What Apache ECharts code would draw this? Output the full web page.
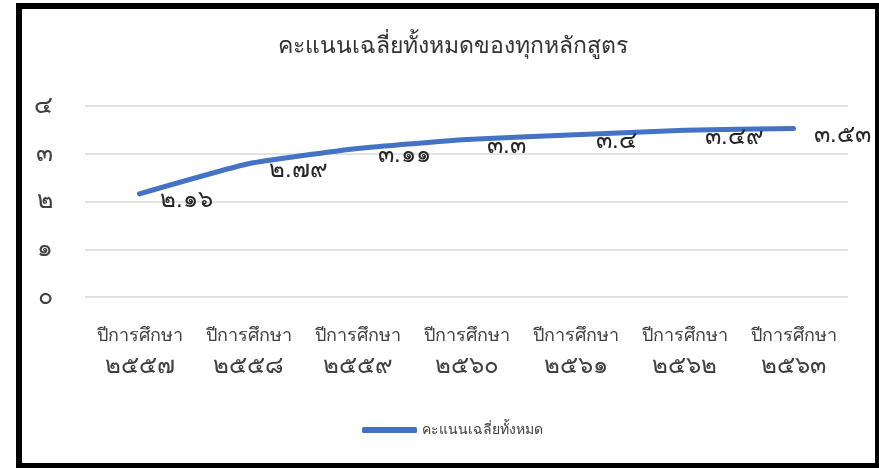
<!DOCTYPE html>
<html><head><meta charset="utf-8">
<script src="https://cdn.jsdelivr.net/npm/echarts@6/dist/echarts.min.js"></script>
<style>
html,body{margin:0;padding:0;background:#fff;}
#frame{position:absolute;left:16px;top:3px;width:853px;height:454px;border:6px solid #000;box-sizing:content-box;}
#chart{position:absolute;left:0;top:0;width:879px;height:468px;}
</style></head>
<body>
<div id="frame"></div>
<div id="chart"></div>
<script>
const titleText = 'คะแนนเฉลี่ยทั้งหมดของทุกหลักสูตร';
const seriesName = 'คะแนนเฉลี่ยทั้งหมด';
const categories = ['ปีการศึกษา\n๒๕๕๗','ปีการศึกษา\n๒๕๕๘','ปีการศึกษา\n๒๕๕๙','ปีการศึกษา\n๒๕๖๐','ปีการศึกษา\n๒๕๖๑','ปีการศึกษา\n๒๕๖๒','ปีการศึกษา\n๒๕๖๓'];
const values = [2.16, 2.79, 3.11, 3.3, 3.4, 3.49, 3.53];
const yTicks = ['๐','๑','๒','๓','๔'];
const thaiDigits = ['๐','๑','๒','๓','๔','๕','๖','๗','๘','๙'];
function toThai(s){ return String(s).replace(/[0-9]/g, d => thaiDigits[+d]); }

const chart = echarts.init(document.getElementById('chart'));
chart.setOption({
  backgroundColor: 'transparent',
  animation: false,
  title: {
    text: titleText, left: 448, top: 30, textAlign: 'center',
    textStyle: { fontSize: 23, fontWeight: 'normal', color: '#333333' }
  },
  legend: {
    data: [seriesName], left: 357, top: 418,
    icon: 'roundRect', itemWidth: 55, itemHeight: 6,
    itemStyle: { color: '#4472C4', opacity: 1 },
    textStyle: { fontSize: 14, color: '#404040' }
  },
  grid: { left: 85, right: 31, top: 106, bottom: 171 },
  xAxis: {
    type: 'category', data: categories, boundaryGap: true,
    axisLine: { show: false }, axisTick: { show: false },
    axisLabel: {
      color: '#404040', margin: 24, interval: 0,
      formatter: v => { const p = v.split('\n'); return '{t|' + p[0] + '}\n{d|' + p[1] + '}'; },
      rich: {
        t: { fontSize: 18, lineHeight: 30, color: '#404040' },
        d: { fontSize: 24, lineHeight: 30, color: '#404040' }
      }
    }
  },
  yAxis: {
    type: 'value', min: 0, max: 4, interval: 1,
    axisLine: { show: false }, axisTick: { show: false },
    axisLabel: { fontSize: 25, color: '#404040', margin: 32, formatter: v => yTicks[v] },
    splitLine: { lineStyle: { color: '#d9d9d9', width: 1.5 } }
  },
  series: [{
    name: seriesName, type: 'line', data: values,
    smooth: 0.15, showSymbol: true, symbol: 'circle', symbolSize: 1,
    lineStyle: { color: '#4472C4', width: 5, cap: 'round' },
    itemStyle: { color: '#4472C4' },
    label: {
      show: true, position: 'right', distance: 20, offset: [0, 7],
      fontSize: 24, color: '#262626',
      formatter: p => toThai(p.value)
    }
  }]
});
</script>
</body></html>
